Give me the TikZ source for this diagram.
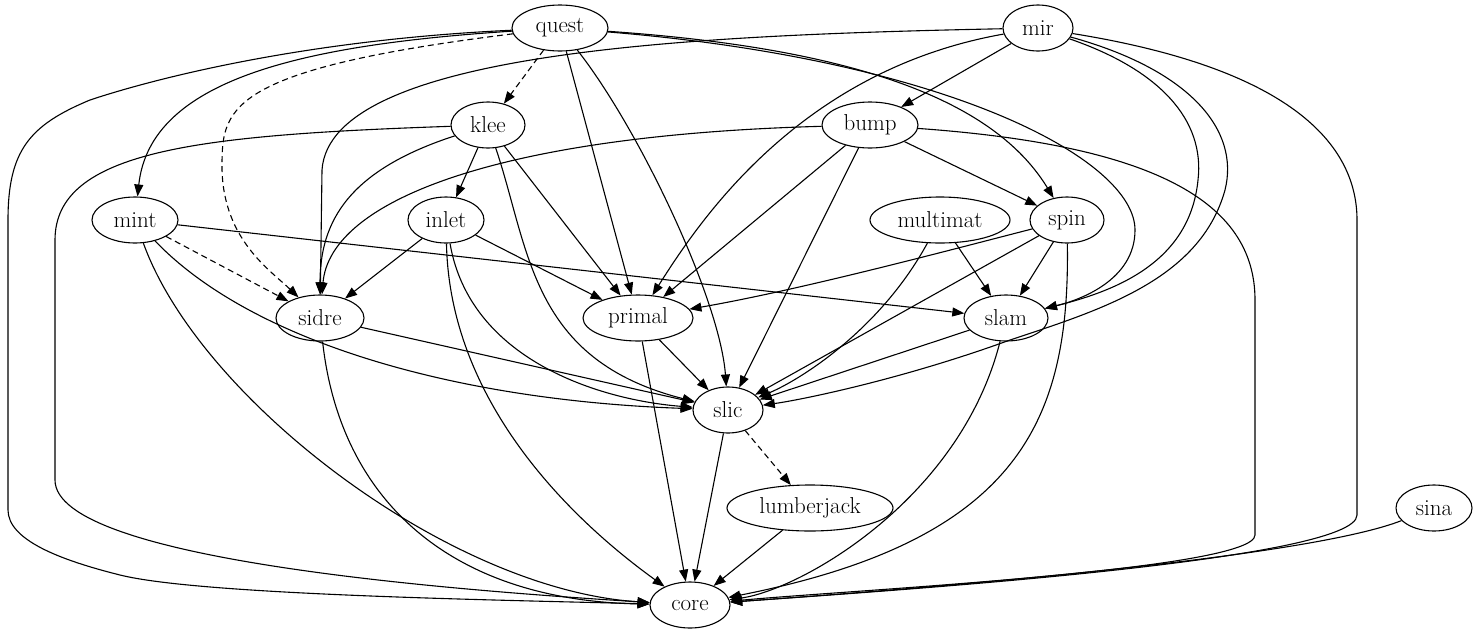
\documentclass[tikz,border=0pt]{standalone}
\usetikzlibrary{arrows.meta,shapes.geometric}
\tikzset{
  pkg/.style={ellipse, draw, inner sep=0pt, minimum height=46pt, font=\fontsize{23}{26}\selectfont},
  dep/.style={-{Triangle[length=12pt,width=9pt]}},
  opt/.style={dep, dashed, dash pattern=on 6pt off 4pt}
}
\begin{document}
\begin{tikzpicture}[x=1pt, y=-1pt, line width=1.1pt]
  \useasboundingbox (0,0) rectangle (1480,635);

  % Packages, one row per rank
  \node[pkg, minimum width=96pt]  (quest)  at (560,28)  {quest};
  \node[pkg, minimum width=70pt]  (mir)    at (1038,28) {mir};
  \node[pkg, minimum width=74pt]  (klee)   at (488,125) {klee};
  \node[pkg, minimum width=96pt]  (bump)   at (870,125) {bump};
  \node[pkg, minimum width=86pt]  (mint)   at (135,220) {mint};
  \node[pkg, minimum width=76pt]  (inlet)  at (446,220) {inlet};
  \node[pkg, minimum width=140pt] (multimat) at (940,220) {multimat};
  \node[pkg, minimum width=74pt]  (spin)   at (1067,220) {spin};
  \node[pkg, minimum width=88pt]  (sidre)  at (320,318) {sidre};
  \node[pkg, minimum width=110pt] (primal) at (638,318) {primal};
  \node[pkg, minimum width=84pt]  (slam)   at (1006,318) {slam};
  \node[pkg, minimum width=70pt]  (slic)   at (728,410) {slic};
  \node[pkg, minimum width=166pt] (lumberjack) at (810,508) {lumberjack};
  \node[pkg, minimum width=76pt]  (sina)   at (1434,508) {sina};
  \node[pkg, minimum width=80pt]  (core)   at (690,605) {core};

  % quest
  \draw[opt] (quest) -- (klee);
  \draw[dep] (quest) .. controls (300,45) and (150,80) .. (mint);
  \draw[opt] (quest) .. controls (220,70) and (222,110) .. (222,170)
                     .. controls (224,240) and (270,270) .. (sidre);
  \draw[dep] (quest) -- (primal);
  \draw[dep] (quest) .. controls (640,130) and (720,300) .. (slic);
  \draw[dep] (quest) .. controls (880,50) and (1000,110) .. (spin);
  \draw[dep] (quest) .. controls (950,60) and (1135,160) .. (1135,230)
                     .. controls (1135,280) and (1080,300) .. (slam);
  \draw[dep] (quest) .. controls (300,40) and (150,80) .. (90,100)
                     .. controls (30,125) and (8,150) .. (8,220) -- (8,510)
                     .. controls (8,540) and (60,560) .. (120,575)
                     .. controls (200,595) and (500,600) .. (core);

  % mir
  \draw[dep] (mir) -- (bump);
  \draw[dep] (mir) .. controls (700,35) and (330,50) .. (322,170) -- (sidre);
  \draw[dep] (mir) .. controls (800,70) and (700,220) .. (primal);
  \draw[dep] (mir) .. controls (1160,70) and (1205,120) .. (1198,180)
                   .. controls (1190,260) and (1120,290) .. (slam);
  \draw[dep] (mir) .. controls (1190,70) and (1240,130) .. (1225,190)
                   .. controls (1200,280) and (1100,310) .. (1010,340)
                   .. controls (900,380) and (800,400) .. (slic);
  \draw[dep] (mir) .. controls (1300,70) and (1357,150) .. (1357,220) -- (1357,515)
                   .. controls (1357,560) and (900,590) .. (core);

  % klee
  \draw[dep] (klee) .. controls (200,135) and (55,150) .. (55,240) -- (55,480)
                    .. controls (55,560) and (450,590) .. (core);
  \draw[dep] (klee) .. controls (350,170) and (320,220) .. (sidre);
  \draw[dep] (klee) -- (inlet);
  \draw[dep] (klee) -- (primal);
  \draw[dep] (klee) .. controls (530,250) and (530,360) .. (slic);

  % bump
  \draw[dep] (bump) .. controls (500,135) and (330,200) .. (sidre);
  \draw[dep] (bump) -- (primal);
  \draw[dep] (bump) -- (slic);
  \draw[dep] (bump) -- (spin);
  \draw[dep] (bump) .. controls (1150,145) and (1255,200) .. (1255,300) -- (1255,535)
                    .. controls (1255,570) and (850,590) .. (core);

  % mint
  \draw[opt] (mint) -- (sidre);
  \draw[dep] (mint) -- (slam);
  \draw[dep] (mint) .. controls (250,340) and (450,400) .. (slic);
  \draw[dep] (mint) .. controls (200,400) and (450,590) .. (core);

  % inlet
  \draw[dep] (inlet) -- (sidre);
  \draw[dep] (inlet) -- (primal);
  \draw[dep] (inlet) .. controls (470,360) and (600,400) .. (slic);
  \draw[dep] (inlet) .. controls (450,420) and (600,540) .. (core);

  % multimat and spin
  \draw[dep] (multimat) -- (slam);
  \draw[dep] (multimat) .. controls (880,330) and (800,380) .. (slic);
  \draw[dep] (spin) .. controls (950,250) and (800,290) .. (primal);
  \draw[dep] (spin) -- (slam);
  \draw[dep] (spin) -- (slic);
  \draw[dep] (spin) .. controls (1070,420) and (1020,540) .. (core);

  % lower ranks
  \draw[dep] (sidre) -- (slic);
  \draw[dep] (sidre) .. controls (340,500) and (450,600) .. (core);
  \draw[dep] (primal) -- (slic);
  \draw[dep] (primal) -- (core);
  \draw[dep] (slam) -- (slic);
  \draw[dep] (slam) .. controls (960,500) and (800,590) .. (core);
  \draw[opt] (slic) -- (lumberjack);
  \draw[dep] (slic) -- (core);
  \draw[dep] (lumberjack) -- (core);
  \draw[dep] (sina) .. controls (1300,560) and (900,590) .. (core);
\end{tikzpicture}
\end{document}
